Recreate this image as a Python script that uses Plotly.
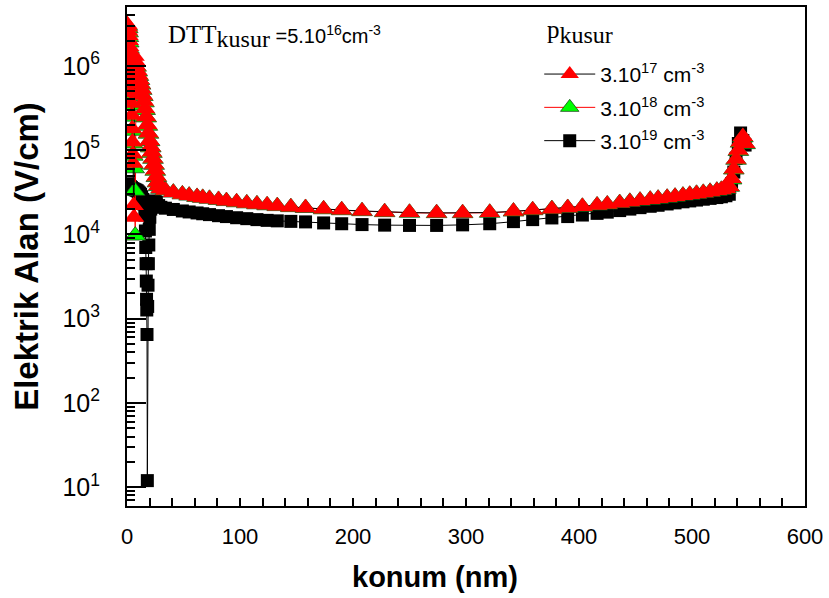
import plotly.graph_objects as go

# ---------------- data ----------------
# shared bulk mesh (nm)
pos_bulk = [30, 34, 41, 49, 55, 62, 67, 73, 81, 88, 97, 106, 115, 124, 133, 145, 158, 174, 190, 208,
            228, 250, 274, 297, 321, 342, 359, 376, 390, 403, 416, 425, 436, 445, 454, 463, 470, 478, 485, 492,
            498, 504, 510, 516, 522, 526, 530, 533]
# back-contact region (nm)
pos_back = [535, 537, 539, 541, 543, 545, 547]

# p_kusur = 3e17 cm^-3
pos_red_front = [0.3, 0.6, 0.9, 1.2, 1.5, 1.8, 2.1, 2.4, 2.7, 3.0, 3.3, 3.6, 3.9, 4.2, 4.5, 4.8,
                 5.1, 5.4, 5.8, 6.2, 6.6, 7.2,
                 8, 9, 10, 11, 12, 13, 14, 15, 16, 17, 18, 19, 20, 21, 22, 23, 24, 25, 26, 27, 28]
field_red_front = [3.1e6, 2.9e6, 2.6e6, 2.3e6, 2.0e6, 1.7e6, 1.4e6, 1.15e6, 9.5e5, 7.8e5, 6.2e5, 4.8e5,
                   3.6e5, 2.6e5, 1.8e5, 1.25e5,
                   9.0e4, 7.0e4, 2.2e4, 1.6e4, 1.3e6, 1.15e6,
                   1.0e6, 8.8e5, 7.8e5, 6.9e5, 6.1e5, 5.3e5, 4.5e5, 3.8e5, 3.1e5, 2.5e5, 2.0e5, 1.6e5,
                   1.3e5, 1.1e5, 9.5e4, 8.0e4, 6.8e4, 5.8e4, 4.9e4, 4.2e4, 3.8e4]
field_red_bulk = [3.5e4, 3.35e4, 3.15e4, 3.0e4, 2.9e4, 2.8e4, 2.73e4, 2.66e4, 2.58e4, 2.5e4,
                  2.42e4, 2.35e4, 2.29e4, 2.23e4, 2.18e4, 2.12e4, 2.07e4, 2.0e4, 1.95e4, 1.9e4,
                  1.85e4, 1.82e4, 1.8e4, 1.8e4, 1.82e4, 1.88e4, 1.95e4, 2.01e4, 2.07e4, 2.14e4,
                  2.22e4, 2.28e4, 2.37e4, 2.45e4, 2.53e4, 2.6e4, 2.67e4, 2.74e4, 2.82e4, 2.9e4,
                  2.97e4, 3.05e4, 3.13e4, 3.22e4, 3.32e4, 3.4e4, 3.5e4, 3.7e4]
field_red_back = [4.6e4, 6.0e4, 7.8e4, 1.0e5, 1.25e5, 1.45e5, 1.2e5]

# p_kusur = 3e18 cm^-3
pos_green_front = [0.3, 0.6, 0.9, 1.2, 1.5, 1.8, 2.1, 2.4, 2.7, 3.0, 3.3, 3.6, 3.9, 4.2, 4.5, 4.8,
                   5.1, 5.4, 6.3, 6.8, 7.3,
                   8, 9, 10, 11, 12, 13, 14, 15, 16, 17, 18, 19, 20, 21, 22, 23, 24, 25, 26, 27, 28]
field_green_front = [3.0e6, 2.8e6, 2.5e6, 2.2e6, 1.9e6, 1.6e6, 1.35e6, 1.1e6, 9.0e5, 7.4e5, 5.9e5, 4.6e5,
                     3.4e5, 2.5e5, 1.7e5, 1.2e5,
                     8.6e4, 6.8e4, 6.1e4, 3.3e4, 9.7e3,
                     9.8e5, 8.6e5, 7.6e5, 6.8e5, 6.0e5, 5.2e5, 4.4e5, 3.7e5, 3.0e5, 2.45e5, 1.95e5,
                     1.57e5, 1.28e5, 1.08e5, 9.3e4, 7.9e4, 6.7e4, 5.7e4, 4.8e4, 4.15e4, 3.75e4]
field_green_bulk = [3.48e4, 3.33e4, 3.14e4, 2.99e4, 2.89e4, 2.79e4, 2.72e4, 2.65e4, 2.57e4, 2.49e4,
                    2.41e4, 2.34e4, 2.28e4, 2.22e4, 2.17e4, 2.11e4, 2.06e4, 1.99e4, 1.94e4, 1.89e4,
                    1.84e4, 1.81e4, 1.79e4, 1.79e4, 1.81e4, 1.87e4, 1.94e4, 2.0e4, 2.06e4, 2.13e4,
                    2.21e4, 2.27e4, 2.36e4, 2.44e4, 2.52e4, 2.59e4, 2.66e4, 2.73e4, 2.81e4, 2.89e4,
                    2.96e4, 3.04e4, 3.12e4, 3.21e4, 3.31e4, 3.39e4, 3.49e4, 3.68e4]
field_green_back = [4.5e4, 5.9e4, 7.7e4, 9.8e4, 1.23e5, 1.42e5, 1.18e5]

# p_kusur = 3e19 cm^-3
pos_black_front = [0.3, 1, 2, 3, 4, 5, 6, 7, 8, 9,
                   10, 11, 12, 13, 14, 15, 15.8, 16.3, 16.6, 16.9,
                   17.1, 17.3, 17.5, 17.7, 18.0, 18.3, 18.6, 18.9, 19.3, 19.7,
                   20.2, 21, 22, 23, 24, 25, 26, 28]
field_black_front = [4.0e4, 3.9e4, 3.8e4, 3.7e4, 3.6e4, 3.5e4, 3.45e4, 3.4e4, 3.35e4, 3.3e4,
                     3.2e4, 3.1e4, 3.0e4, 2.8e4, 2.6e4, 2.3e4, 1.7e4, 1.1e4, 7.0e3, 4.5e3,
                     2.8e3, 1.7e3, 1.27e3, 650, 12, 1.4e3, 2.5e3, 4.5e3, 7.5e3, 1.15e4,
                     1.6e4, 2.0e4, 2.3e4, 2.45e4, 2.5e4, 2.45e4, 2.4e4, 2.2e4]
field_black_bulk = [2.1e4, 2.05e4, 1.98e4, 1.9e4, 1.85e4, 1.8e4, 1.76e4, 1.72e4, 1.67e4, 1.63e4,
                    1.58e4, 1.54e4, 1.5e4, 1.47e4, 1.45e4, 1.43e4, 1.41e4, 1.37e4, 1.34e4, 1.31e4,
                    1.29e4, 1.28e4, 1.28e4, 1.3e4, 1.34e4, 1.42e4, 1.5e4, 1.57e4, 1.63e4, 1.7e4,
                    1.78e4, 1.84e4, 1.92e4, 2.0e4, 2.08e4, 2.16e4, 2.22e4, 2.3e4, 2.37e4, 2.44e4,
                    2.5e4, 2.56e4, 2.62e4, 2.68e4, 2.74e4, 2.8e4, 2.88e4, 3.0e4]
field_black_back = [4.0e4, 5.5e4, 8.0e4, 1.2e5, 1.6e5, 1.3e5, 1.15e5]

series_names = ["3.10<sup>17</sup> cm<sup>-3</sup>",
                "3.10<sup>18</sup> cm<sup>-3</sup>",
                "3.10<sup>19</sup> cm<sup>-3</sup>"]

y_tick_vals = [1e1, 1e2, 1e3, 1e4, 1e5, 1e6]
y_tick_text = ["10<sup>1</sup>", "10<sup>2</sup>", "10<sup>3</sup>",
               "10<sup>4</sup>", "10<sup>5</sup>", "10<sup>6</sup>"]
x_tick_vals = [0, 100, 200, 300, 400, 500, 600]

# ---------------- figure ----------------
SANS = "Liberation Sans, Arial, sans-serif"
SERIF = "Liberation Serif, Times New Roman, serif"

fig = go.Figure()

# drawn bottom to top: black squares, green triangles, red triangles
fig.add_trace(go.Scatter(
    x=pos_black_front + pos_bulk + pos_back,
    y=field_black_front + field_black_bulk + field_black_back,
    mode="lines+markers", name=series_names[2], legendgroup="c", legendrank=3,
    line=dict(color="black", width=1),
    marker=dict(symbol="square", size=13, color="black", line=dict(width=0)),
))
fig.add_trace(go.Scatter(
    x=pos_green_front + pos_bulk + pos_back,
    y=field_green_front + field_green_bulk + field_green_back,
    mode="lines+markers", name=series_names[1], legendgroup="b", legendrank=2,
    line=dict(color="red", width=1),
    marker=dict(symbol="triangle-up", size=18, color="#00FF00", line=dict(width=0.8, color="#1b4d1b")),
))
fig.add_trace(go.Scatter(
    x=pos_red_front + pos_bulk + pos_back,
    y=field_red_front + field_red_bulk + field_red_back,
    mode="lines+markers", name=series_names[0], legendgroup="a", legendrank=1,
    line=dict(color="black", width=1),
    marker=dict(symbol="triangle-up", size=18, color="red", line=dict(width=0)),
))

minor_y = [m * 10 ** e for e in range(0, 7) for m in range(2, 10)]

fig.update_layout(
    width=829, height=598,
    margin=dict(l=127, r=24, t=5, b=92),
    paper_bgcolor="white", plot_bgcolor="white",
    font=dict(family=SANS, color="black"),
    showlegend=True,
    legend=dict(
        x=0.608, y=0.906, xanchor="left", yanchor="top",
        bgcolor="rgba(0,0,0,0)",
        font=dict(family=SANS, size=21, color="black"),
        traceorder="grouped", itemwidth=51, tracegroupgap=3,
    ),
    xaxis=dict(
        range=[0, 600], showgrid=False, zeroline=False,
        showline=True, linewidth=2, linecolor="black", mirror=True,
        tickmode="array", tickvals=x_tick_vals,
        ticks="inside", ticklen=8, tickwidth=2, tickcolor="black",
        minor=dict(dtick=20, ticks="inside", ticklen=8, tickwidth=2, tickcolor="black", showgrid=False),
        tickfont=dict(family=SANS, size=22),
        ticklabelstandoff=10,
    ),
    yaxis=dict(
        type="log", range=[0.778, 6.699], showgrid=False, zeroline=False,
        showline=True, linewidth=2, linecolor="black", mirror=True,
        tickmode="array", tickvals=y_tick_vals, ticktext=y_tick_text,
        ticks="inside", ticklen=19, tickwidth=2, tickcolor="black",
        minor=dict(tickmode="array", tickvals=minor_y, ticks="inside", ticklen=8,
                   tickwidth=2, tickcolor="black", showgrid=False),
        tickfont=dict(family=SANS, size=25),
        ticklabelstandoff=20,
        title=dict(text="<b>Elektrik Alan (V/cm)</b>", font=dict(family=SANS, size=33), standoff=14),
    ),
)

# x-axis title
fig.add_annotation(
    xref="paper", yref="paper", x=0.455, y=-0.142, xanchor="center", yanchor="middle",
    showarrow=False, text="<b>konum (nm)</b>",
    font=dict(family=SANS, size=29, color="black"),
)

# defect density note
fig.add_annotation(
    xref="paper", yref="paper", x=0.058, y=0.975, xanchor="left", yanchor="top",
    showarrow=False, align="left",
    text=('<span style="font-family:Liberation Serif;font-size:25px">DTT</span>'
          '<sub><span style="font-family:Liberation Serif;font-size:24px">kusur</span></sub>'
          ' =5.10<sup>16</sup>cm<sup>-3</sup>'),
    font=dict(family=SANS, size=20, color="black"),
)

# legend heading
fig.add_annotation(
    xref="paper", yref="paper", x=0.617, y=0.985, xanchor="left", yanchor="top",
    showarrow=False, align="left",
    text=('<span style="font-family:Liberation Serif;font-size:25px">p</span>'
          '<sub><span style="font-family:Liberation Serif;font-size:24px">kusur</span></sub>'),
    font=dict(family=SERIF, size=24, color="black"),
)

fig.write_html("out.html")
